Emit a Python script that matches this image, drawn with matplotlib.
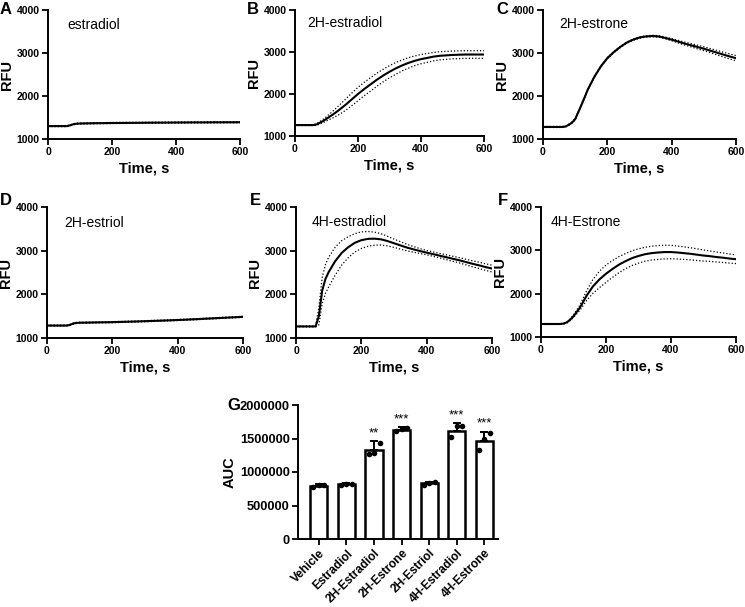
import numpy as np
import matplotlib
matplotlib.use("Agg")
import matplotlib.pyplot as plt

plt.rcParams["font.family"] = ["Liberation Sans", "DejaVu Sans"]

# kinetic traces: time (s), mean RFU and SD per compound
time_s = [0, 20, 40, 60, 70, 80, 90, 100, 120, 140, 160, 180, 200, 220, 240, 260, 280,
          300, 320, 340, 360, 380, 400, 420, 440, 460, 480, 500, 520, 540, 560, 580, 600]

a_mean = [1300, 1300, 1300, 1300, 1320, 1345, 1355, 1360, 1363, 1366, 1368, 1370, 1372, 1373, 1374, 1375, 1376,
          1378, 1379, 1380, 1381, 1382, 1383, 1384, 1385, 1386, 1386, 1387, 1388, 1388, 1389, 1389, 1390]
a_sd = [12, 12, 12, 12, 12, 12, 12, 12, 12, 12, 12, 12, 12, 12, 12, 12, 12,
        12, 12, 12, 12, 12, 12, 12, 12, 12, 12, 12, 12, 12, 12, 12, 12]

b_mean = [1260, 1260, 1260, 1260, 1280, 1320, 1360, 1410, 1510, 1620, 1740, 1870, 2000, 2120, 2230, 2340, 2440,
          2530, 2610, 2680, 2740, 2790, 2830, 2860, 2890, 2910, 2920, 2930, 2935, 2940, 2940, 2940, 2940]
b_sd = [10, 10, 10, 10, 20, 30, 40, 50, 80, 110, 135, 150, 160, 160, 160, 155, 150,
        145, 140, 130, 125, 115, 110, 105, 100, 97, 95, 93, 92, 91, 90, 90, 90]

c_mean = [1280, 1280, 1280, 1280, 1290, 1330, 1380, 1460, 1800, 2160, 2450, 2690, 2880, 3020, 3140, 3240, 3310,
          3360, 3385, 3395, 3385, 3350, 3310, 3265, 3220, 3180, 3140, 3100, 3055, 3010, 2965, 2920, 2880]
c_sd = [12, 12, 12, 12, 12, 14, 15, 15, 15, 15, 15, 15, 15, 15, 15, 15, 15,
        15, 15, 16, 18, 20, 25, 30, 35, 38, 42, 45, 48, 52, 55, 58, 60]

d_mean = [1285, 1285, 1285, 1285, 1300, 1330, 1345, 1350, 1352, 1355, 1358, 1360, 1363, 1367, 1371, 1375, 1380,
          1385, 1390, 1395, 1400, 1406, 1412, 1418, 1425, 1432, 1440, 1447, 1455, 1462, 1470, 1477, 1485]
d_sd = [12, 12, 12, 12, 12, 12, 12, 12, 12, 12, 12, 12, 12, 12, 12, 12, 12,
        12, 12, 12, 12, 12, 12, 12, 12, 12, 12, 12, 12, 12, 12, 12, 12]

e_mean = [1265, 1265, 1265, 1265, 1500, 2080, 2350, 2510, 2760, 2950, 3080, 3180, 3240, 3270, 3275, 3260, 3220,
          3170, 3120, 3070, 3030, 2990, 2955, 2920, 2885, 2850, 2815, 2780, 2740, 2700, 2665, 2625, 2590]
e_sd = [10, 10, 10, 10, 200, 300, 330, 340, 320, 280, 240, 210, 190, 170, 150, 130, 110,
        95, 85, 75, 65, 55, 50, 50, 52, 55, 58, 60, 64, 68, 72, 75, 78]

f_mean = [1300, 1300, 1300, 1300, 1310, 1340, 1400, 1480, 1680, 1950, 2170, 2330, 2460, 2570, 2670, 2750, 2820,
          2870, 2910, 2935, 2950, 2960, 2960, 2950, 2935, 2920, 2900, 2880, 2865, 2845, 2830, 2810, 2795]
f_sd = [10, 10, 10, 10, 10, 15, 20, 30, 60, 110, 160, 190, 200, 195, 185, 175, 170,
        165, 160, 160, 160, 158, 155, 150, 145, 140, 135, 128, 120, 115, 110, 105, 100]

panel_letters = ["A", "B", "C", "D", "E", "F"]
panel_names = ["estradiol", "2H-estradiol", "2H-estrone", "2H-estriol", "4H-estradiol", "4H-Estrone"]

# AUC bar chart
groups = ["Vehicle", "Estradiol", "2H-Estradiol", "2H-Estrone", "2H-Estriol", "4H-Estradiol", "4H-Estrone"]
auc_mean = [790000, 815000, 1330000, 1627000, 831000, 1616000, 1463000]
auc_sd = [26000, 15000, 135000, 40000, 15000, 110000, 140000]
auc_points = [[770000, 800000, 800000],
              [805000, 815000, 820000],
              [1275000, 1285000, 1430000],
              [1610000, 1640000, 1650000],
              [810000, 830000, 845000],
              [1520000, 1690000, 1690000],
              [1330000, 1490000, 1580000]]
auc_stars = ["", "", "**", "***", "", "***", "***"]

W, H = 745, 607
fig = plt.figure(figsize=(W / 100, H / 100), dpi=100)


def box(x0, x1, y0, y1):
    return [x0 / W, 1 - y1 / H, (x1 - x0) / W, (y1 - y0) / H]


def style(ax):
    for s in ("top", "right"):
        ax.spines[s].set_visible(False)
    for s in ("left", "bottom"):
        ax.spines[s].set_linewidth(1.4)
    ax.tick_params(direction="out", length=4, width=1.3, pad=2)
    for lab in ax.get_xticklabels() + ax.get_yticklabels():
        lab.set_fontweight("bold")


boxes = [box(48, 240, 10, 139), box(295, 484, 10, 136), box(543, 736, 10, 139),
         box(47, 243, 207, 338), box(296, 492, 207, 338), box(541, 736, 207, 337)]
letter_xy = [(0, 2), (247, 2), (496, 2), (0, 193), (250, 193), (498, 193)]
name_xy = [(0.10, 0.88), (0.065, 0.90), (0.085, 0.89), (0.09, 0.88), (0.08, 0.885), (0.05, 0.885)]
means = [a_mean, b_mean, c_mean, d_mean, e_mean, f_mean]
sds = [a_sd, b_sd, c_sd, d_sd, e_sd, f_sd]

t = np.array(time_s)
for i in range(6):
    ax = fig.add_axes(boxes[i])
    m, s = np.array(means[i]), np.array(sds[i])
    ax.plot(t, m, color="black", lw=1.5)
    ax.plot(t, m + s, color="black", lw=0.9, ls=(0, (1, 1.6)))
    ax.plot(t, m - s, color="black", lw=0.9, ls=(0, (1, 1.6)))
    ax.set_xlim(0, 600); ax.set_ylim(1000, 4000)
    ax.set_xticks([0, 200, 400, 600]); ax.set_yticks([1000, 2000, 3000, 4000])
    ax.tick_params(labelsize=7.5)
    ax.set_xlabel("Time, s", fontsize=10.5, fontweight="bold", labelpad=3)
    ax.set_ylabel("RFU", fontsize=10.5, fontweight="bold", labelpad=2)
    ax.text(*name_xy[i], panel_names[i], transform=ax.transAxes, fontsize=10, va="center", ha="left")
    style(ax)
    fig.text(letter_xy[i][0] / W, 1 - letter_xy[i][1] / H, panel_letters[i],
             fontsize=12, fontweight="bold", va="top", ha="left")

# panel G
ax = fig.add_axes(box(298, 498, 405, 539))
x = np.arange(len(groups))
ax.bar(x, auc_mean, width=0.62, color="white", edgecolor="black", linewidth=1.8, zorder=2)
ax.errorbar(x, auc_mean, yerr=[np.zeros(len(x)), auc_sd], fmt="none", ecolor="black",
            elinewidth=1.4, capsize=3, capthick=1.4, zorder=3)
offs = [-0.2, 0.0, 0.2]
for i, pts in enumerate(auc_points):
    ax.scatter([x[i] + o for o in offs], pts, s=16, color="black", zorder=4, linewidths=0)
    if auc_stars[i]:
        ax.text(x[i], auc_mean[i] + auc_sd[i] + 25000, auc_stars[i], ha="center", va="bottom", fontsize=9.5)
ax.set_xlim(-0.76, 6.5); ax.set_ylim(0, 2000000)
ax.set_yticks([0, 500000, 1000000, 1500000, 2000000])
ax.set_yticklabels(["0", "500000", "1000000", "1500000", "2000000"])
ax.set_xticks(x)
ax.set_xticklabels(groups, rotation=45, ha="right", rotation_mode="anchor")
ax.tick_params(axis="y", labelsize=9.3)
ax.tick_params(axis="x", labelsize=8.6)
ax.set_ylabel("AUC", fontsize=10.5, fontweight="bold", labelpad=2)
style(ax)
fig.text(227 / W, 1 - 398 / H, "G", fontsize=12, fontweight="bold", va="top", ha="left")

fig.savefig("out.png", dpi=100)
